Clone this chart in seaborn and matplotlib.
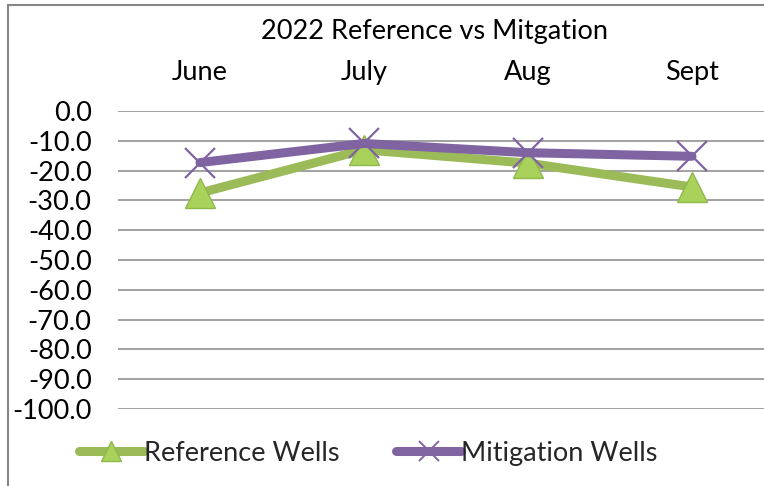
import pandas as pd
import numpy as np
import seaborn as sns
import matplotlib.pyplot as plt
from matplotlib.patches import Rectangle
from matplotlib.lines import Line2D

months = ['June', 'July', 'Aug', 'Sept']
reference_wells = [-27.5, -13.0, -17.5, -25.5]
mitigation_wells = [-17.3, -10.9, -14.0, -15.2]

ref = pd.DataFrame({'month': months, 'value': reference_wells})
mit = pd.DataFrame({'month': months, 'value': mitigation_wells})

sns.set_theme(style='white')
plt.rcParams['font.family'] = ['Lato', 'DejaVu Sans']

green = '#9BBB59'
green_fill = '#A8D25C'
purple = '#8064A2'
fs = 19.5

fig = plt.figure(figsize=(7.64, 4.86), dpi=100)
# plot area runs past the right edge, like the cropped original
ax = fig.add_axes([118 / 764, 77 / 486, 656 / 764, 298 / 486])

sns.lineplot(data=ref, x='month', y='value', color=green, lw=6.5, sort=False,
             marker='^', markersize=22, markerfacecolor=green_fill,
             markeredgecolor='#8FB84A', markeredgewidth=1, ax=ax, zorder=3)
sns.lineplot(data=mit, x='month', y='value', color=purple, lw=6.5, sort=False,
             marker='x', markersize=21, markeredgecolor=purple,
             markeredgewidth=1.6, ax=ax, zorder=4)

ax.set_xlim(-0.5, 3.5)
ax.set_ylim(-100, 0)
yt = np.arange(-100, 1, 10)
ax.set_yticks(yt)
ax.set_yticklabels([f'{v:.1f}' if v != 0 else '0.0' for v in yt])
ax.yaxis.grid(True, color='#9a9a9a', lw=1.3)
ax.xaxis.tick_top()
ax.tick_params(axis='x', length=0, pad=19, labelsize=fs, colors='black')
ax.tick_params(axis='y', length=0, pad=19, labelsize=fs, colors='black')
ax.set_xlabel('')
ax.set_ylabel('')
for s in ax.spines.values():
    s.set_visible(False)

fig.text(435 / 764, 1 - 32 / 486, '2022 Reference vs Mitgation', ha='center', va='center',
         fontsize=fs, color='black')

h1 = Line2D([], [], color=green, lw=6.5, marker='^', markersize=15,
            markerfacecolor=green_fill, markeredgecolor='#8FB84A', solid_capstyle='round')
h2 = Line2D([], [], color=purple, lw=6.5, marker='x', markersize=15,
            markeredgecolor=purple, markeredgewidth=1.4, solid_capstyle='round')
fig.legend([h1, h2], ['Reference Wells', 'Mitigation Wells'], loc='center left',
           bbox_to_anchor=(60 / 764, 1 - 453 / 486), ncol=2, frameon=False,
           fontsize=fs, handlelength=2.4, handletextpad=0.0, columnspacing=2.1,
           borderpad=0.2)

fig.add_artist(Rectangle((8 / 764, -0.1), 1.2, 1 - 5 / 486 + 0.1, transform=fig.transFigure,
                         fill=False, edgecolor='#868686', lw=1.5))

fig.savefig('out.png', dpi=100)
